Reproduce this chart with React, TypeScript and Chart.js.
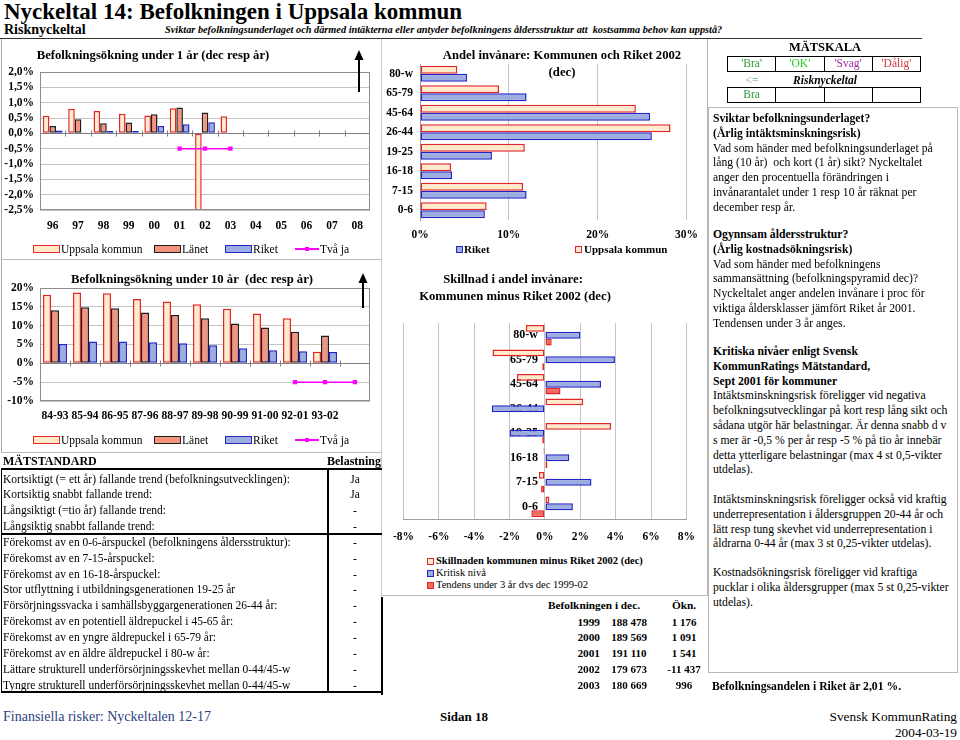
import React, { useEffect, useRef } from 'react';
import { Chart, registerables } from 'chart.js';
Chart.register(...registerables);

const SERIF = '"Liberation Serif", "Times New Roman", Times, serif';

// ---------- Data ----------
const years1 = ['96', '97', '98', '99', '00', '01', '02', '03', '04', '05', '06', '07', '08'];
const uppsala1 = [0.57, 0.8, 0.73, 0.64, 0.58, 0.82, -5.98, 0.56, null, null, null, null, null];
const lanet1 = [0.24, 0.46, 0.33, 0.35, 0.62, 0.84, 0.68, null, null, null, null, null, null];
const riket1 = [0.09, 0.03, 0.08, 0.08, 0.24, 0.3, 0.36, null, null, null, null, null, null];
const tvaJa1 = [null, null, null, null, null, -0.5, -0.5, -0.5, null, null, null, null, null];

const periods10 = ['84-93', '85-94', '86-95', '87-96', '88-97', '89-98', '90-99', '91-00', '92-01', '93-02', ''];
const uppsala10 = [18.2, 18.8, 18.6, 17.1, 16.4, 15.7, 14.5, 13.2, 12.0, 3.1, null];
const lanet10 = [14.1, 14.9, 14.6, 13.5, 12.8, 12.0, 10.6, 9.5, 8.4, 7.4, null];
const riket10 = [5.1, 5.8, 5.8, 5.6, 5.3, 4.8, 4.0, 3.5, 3.2, 3.0, null];
const tvaJa10 = [null, null, null, null, null, null, null, null, -5, -5, -5];

const ageGroups = ['80-w', '65-79', '45-64', '26-44', '19-25', '16-18', '7-15', '0-6'];
const andelUppsala = [4.2, 8.9, 24.3, 28.2, 11.8, 3.5, 11.6, 7.5];
const andelRiket = [5.3, 12.0, 25.9, 26.1, 8.1, 3.6, 12.0, 7.3];

const skillnad = [-1.08, -2.97, -1.58, 2.16, 3.74, -0.08, -0.34, 0.25];
const kritisk = [2.0, 3.96, 3.17, -3.0, -2.0, 1.37, 2.63, 1.58];
const tendens = [0.38, -0.15, 0.88, -0.04, -0.15, 0.14, -0.22, -0.77];

const popYears = ['1999', '2000', '2001', '2002', '2003'];
const popValues = ['188 478', '189 569', '191 110', '179 673', '180 669'];
const popIncrease = ['1 176', '1 091', '1 541', '-11 437', '996'];

const standardShort = [
  ['Kortsiktigt (= ett år) fallande trend (befolkningsutvecklingen):', 'Ja'],
  ['Kortsiktig snabbt fallande trend:', 'Ja'],
  ['Långsiktigt (=tio år) fallande trend:', '-'],
  ['Långsiktig snabbt fallande trend:', '-'],
];
const standardStructure = [
  ['Förekomst av en 0-6-årspuckel (befolkningens åldersstruktur):', '-'],
  ['Förekomst av en 7-15-årspuckel:', '-'],
  ['Förekomst av en 16-18-årspuckel:', '-'],
  ['Stor utflyttning i utbildningsgenerationen 19-25 år', '-'],
  ['Försörjningssvacka i samhällsbyggargenerationen 26-44 år:', '-'],
  ['Förekomst av en potentiell äldrepuckel i 45-65 år:', '-'],
  ['Förekomst av en yngre äldrepuckel i 65-79 år:', '-'],
  ['Förekomst av en äldre äldrepuckel i 80-w år:', '-'],
  ['Lättare strukturell underförsörjningsskevhet mellan 0-44/45-w', '-'],
  ['Tyngre strukturell underförsörjningsskevhet mellan 0-44/45-w', '-'],
];

type Line = { t: string; b?: boolean };
const paragraphs: { y: number; lines: Line[] }[] = [
  {
    y: 119,
    lines: [
      { t: 'Sviktar befolkningsunderlaget?', b: true },
      { t: '(Årlig intäktsminskningsrisk)', b: true },
      { t: 'Vad som händer med befolkningsunderlaget på' },
      { t: 'lång (10 år)  och kort (1 år) sikt? Nyckeltalet' },
      { t: 'anger den procentuella förändringen i' },
      { t: 'invånarantalet under 1 resp 10 år räknat per' },
      { t: 'december resp år.' },
    ],
  },
  {
    y: 235,
    lines: [
      { t: 'Ogynnsam åldersstruktur?', b: true },
      { t: '(Årlig kostnadsökningsrisk)', b: true },
      { t: 'Vad som händer med befolkningens' },
      { t: 'sammansättning (befolkningspyramid dec)?' },
      { t: 'Nyckeltalet anger andelen invånare i proc för' },
      { t: 'viktiga åldersklasser jämfört Riket år 2001.' },
      { t: 'Tendensen under 3 år anges.' },
    ],
  },
  {
    y: 352,
    lines: [
      { t: 'Kritiska nivåer enligt Svensk', b: true },
      { t: 'KommunRatings Mätstandard,', b: true },
      { t: 'Sept 2001 för kommuner', b: true },
      { t: 'Intäktsminskningsrisk föreligger vid negativa' },
      { t: 'befolkningsutvecklingar på kort resp lång sikt och' },
      { t: 'sådana utgör här belastningar. Är denna snabb d v' },
      { t: 's mer är -0,5 % per år resp -5 % på tio år innebär' },
      { t: 'detta ytterligare belastningar (max 4 st 0,5-vikter' },
      { t: 'utdelas).' },
    ],
  },
  {
    y: 500,
    lines: [
      { t: 'Intäktsminskningsrisk föreligger också vid kraftig' },
      { t: 'underrepresentation i åldersgruppen 20-44 år och' },
      { t: 'lätt resp tung skevhet vid underrepresentation i' },
      { t: 'åldrarna 0-44 år (max 3 st 0,25-vikter utdelas).' },
    ],
  },
  {
    y: 573,
    lines: [
      { t: 'Kostnadsökningsrisk föreligger vid kraftiga' },
      { t: 'pucklar i olika åldersgrupper (max 5 st 0,25-vikter' },
      { t: 'utdelas).' },
    ],
  },
];

// ---------- Styles ----------
const C = {
  upFill: '#FFEBCC',
  upLine: '#E3262A',
  lanFill: '#F4937E',
  lanLine: '#1E1E1E',
  rikFill: '#9CADE0',
  rikLine: '#2424C8',
  tendFill: '#F06A5E',
  magenta: '#FF00FF',
  grid: '#C4C4C4',
  frame: '#8C8C8C',
};

const tickFont = { family: SERIF, size: 11.5, weight: 'bold' as const };

const framePlugin = {
  id: 'frame',
  afterDraw(chart: any) {
    const { ctx, chartArea: a } = chart;
    ctx.save();
    ctx.strokeStyle = C.frame;
    ctx.lineWidth = 1;
    ctx.strokeRect(a.left + 0.5, a.top + 0.5, a.right - a.left - 1, a.bottom - a.top - 1);
    ctx.restore();
  },
};

const zeroAxisPlugin = {
  id: 'zeroAxis',
  beforeDatasetsDraw(chart: any) {
    const { ctx, chartArea: a, scales } = chart;
    const y0 = Math.round(scales.y.getPixelForValue(0)) + 0.5;
    const n = scales.x.getLabels().length;
    ctx.save();
    ctx.strokeStyle = '#808080';
    ctx.lineWidth = 1;
    ctx.beginPath();
    ctx.moveTo(a.left, y0);
    ctx.lineTo(a.right, y0);
    for (let i = 1; i < n; i++) {
      const px = Math.round(a.left + ((a.right - a.left) * i) / n) + 0.5;
      ctx.moveTo(px, y0 - 3);
      ctx.lineTo(px, y0 + 3);
    }
    ctx.stroke();
    ctx.restore();
  },
};

const centerLabelsPlugin = {
  id: 'centerLabels',
  beforeDatasetsDraw(chart: any) {
    const { ctx, scales } = chart;
    const x0 = scales.x.getPixelForValue(0);
    ctx.save();
    ctx.font = `bold 12px ${SERIF}`;
    ctx.fillStyle = '#000';
    ctx.textAlign = 'right';
    ctx.textBaseline = 'middle';
    ageGroups.forEach((lab, i) => {
      ctx.fillText(lab, x0 - 7, scales.y.getPixelForTick(i));
    });
    ctx.restore();
  },
};

const barDs = (label: string, data: any[], fill: string, line: string, cat: number) => ({
  type: 'bar' as const,
  label,
  data,
  backgroundColor: fill,
  borderColor: line,
  borderWidth: 1.5,
  borderSkipped: false,
  categoryPercentage: cat,
  barPercentage: 1,
  order: 2,
});

const lineDs = (label: string, data: any[]) => ({
  type: 'line' as const,
  label,
  data,
  borderColor: C.magenta,
  backgroundColor: C.magenta,
  borderWidth: 1.5,
  pointStyle: 'rect' as const,
  pointRadius: 2,
  order: 0,
});

function config1(): any {
  return {
    type: 'bar',
    data: {
      labels: years1,
      datasets: [
        barDs('Uppsala kommun', uppsala1, C.upFill, C.upLine, 0.78),
        barDs('Länet', lanet1, C.lanFill, C.lanLine, 0.78),
        barDs('Riket', riket1, C.rikFill, C.rikLine, 0.78),
        lineDs('Två ja', tvaJa1),
      ],
    },
    options: {
      animation: false,
      responsive: false,
      events: [],
      layout: { padding: { top: 32, right: 8, left: 0, bottom: 0 } },
      plugins: { legend: { display: false }, tooltip: { enabled: false } },
      scales: {
        x: {
          grid: { display: false, drawTicks: false },
          border: { display: false },
          ticks: { padding: 9, font: tickFont, color: '#000', autoSkip: false, maxRotation: 0 },
          afterFit: (s: any) => { s.height = 30; },
        },
        y: {
          min: -2.5,
          max: 2.0,
          ticks: {
            stepSize: 0.5,
            autoSkip: false,
            padding: 6,
            font: tickFont,
            color: '#000',
            callback: (v: any) => Number(v).toFixed(1).replace('.', ',') + '%',
          },
          grid: { color: C.grid, drawTicks: false },
          border: { display: false },
          afterFit: (s: any) => { s.width = 38; },
        },
      },
    },
    plugins: [zeroAxisPlugin, framePlugin],
  };
}

function config2(): any {
  return {
    type: 'bar',
    data: {
      labels: periods10,
      datasets: [
        barDs('Uppsala kommun', uppsala10, C.upFill, C.upLine, 0.8),
        barDs('Länet', lanet10, C.lanFill, C.lanLine, 0.8),
        barDs('Riket', riket10, C.rikFill, C.rikLine, 0.8),
        lineDs('Två ja', tvaJa10),
      ],
    },
    options: {
      animation: false,
      responsive: false,
      events: [],
      layout: { padding: { top: 26, right: 8, left: 0, bottom: 0 } },
      plugins: { legend: { display: false }, tooltip: { enabled: false } },
      scales: {
        x: {
          grid: { display: false, drawTicks: false },
          border: { display: false },
          ticks: { padding: 8, font: tickFont, color: '#000', autoSkip: false, maxRotation: 0 },
          afterFit: (s: any) => { s.height = 26; },
        },
        y: {
          min: -10,
          max: 20,
          ticks: { stepSize: 5, autoSkip: false, padding: 6, font: tickFont, color: '#000', callback: (v: any) => v + '%' },
          grid: { color: C.grid, drawTicks: false },
          border: { display: false },
          afterFit: (s: any) => { s.width = 38; },
        },
      },
    },
    plugins: [zeroAxisPlugin, framePlugin],
  };
}

function config3(): any {
  return {
    type: 'bar',
    data: {
      labels: ageGroups,
      datasets: [
        barDs('Uppsala kommun', andelUppsala, C.upFill, C.upLine, 0.82),
        barDs('Riket', andelRiket, C.rikFill, C.rikLine, 0.82),
      ],
    },
    options: {
      indexAxis: 'y',
      animation: false,
      responsive: false,
      events: [],
      layout: { padding: { top: 24, right: 14, left: 0, bottom: 0 } },
      plugins: { legend: { display: false }, tooltip: { enabled: false } },
      scales: {
        x: {
          min: 0,
          max: 30,
          ticks: { stepSize: 10, padding: 8, font: tickFont, color: '#000', callback: (v: any) => v + '%' },
          grid: { color: C.grid, drawTicks: false },
          border: { display: false },
          afterFit: (s: any) => { s.height = 25; },
        },
        y: {
          ticks: { padding: 7, font: tickFont, color: '#000', autoSkip: false },
          grid: { display: false, drawTicks: false },
          border: { display: true, color: '#A0A0A0' },
          afterFit: (s: any) => { s.width = 38; },
        },
      },
    },
  };
}

function config4(): any {
  return {
    type: 'bar',
    data: {
      labels: ageGroups,
      datasets: [
        barDs('Skillnaden kommunen minus Riket 2002 (dec)', skillnad, C.upFill, C.upLine, 0.84),
        barDs('Kritisk nivå', kritisk, C.rikFill, C.rikLine, 0.84),
        barDs('Tendens under 3 år dvs dec 1999-02', tendens, C.tendFill, C.upLine, 0.84),
      ],
    },
    options: {
      indexAxis: 'y',
      animation: false,
      responsive: false,
      events: [],
      layout: { padding: { top: 23, right: 13, left: 15, bottom: 0 } },
      plugins: { legend: { display: false }, tooltip: { enabled: false } },
      scales: {
        x: {
          min: -8,
          max: 8,
          ticks: { stepSize: 2, padding: 11, font: tickFont, color: '#000', callback: (v: any) => v + '%' },
          grid: { color: C.grid, drawTicks: false },
          border: { display: true, color: '#A0A0A0' },
          afterFit: (s: any) => { s.height = 31; },
        },
        y: { display: false },
      },
    },
    plugins: [centerLabelsPlugin],
  };
}

// ---------- Components ----------
function ChartCanvas({ left, top, width, height, make }: any) {
  const ref = useRef<HTMLCanvasElement>(null);
  useEffect(() => {
    const chart = new Chart(ref.current as HTMLCanvasElement, make());
    return () => chart.destroy();
  }, []);
  return (
    <canvas
      ref={ref}
      width={width}
      height={height}
      style={{ position: 'absolute', left, top, width, height }}
    />
  );
}

function Txt({ x, y, children, size = 12, bold = false, italic = false, align = 'left', color = '#000', style = {} }: any) {
  const tx = align === 'left' ? '0' : align === 'center' ? '-50%' : '-100%';
  return (
    <div
      style={{
        position: 'absolute',
        left: x,
        top: y - 10,
        height: 20,
        lineHeight: '20px',
        fontSize: size,
        fontWeight: bold ? 'bold' : 'normal',
        fontStyle: italic ? 'italic' : 'normal',
        color,
        fontFamily: SERIF,
        whiteSpace: 'pre',
        transform: `translateX(${tx})`,
        ...style,
      }}
    >
      {children}
    </div>
  );
}

function Box({ x, y, w, h, bg, style = {} }: any) {
  return <div style={{ position: 'absolute', left: x, top: y, width: w, height: h, background: bg, ...style }} />;
}

function Swatch({ x, y, w, h, fill, line }: any) {
  return (
    <div
      style={{
        position: 'absolute',
        left: x,
        top: y - h / 2,
        width: w,
        height: h,
        background: fill,
        border: `1.5px solid ${line}`,
        boxSizing: 'border-box',
      }}
    />
  );
}

function Arrow({ x, yTip, yTail }: any) {
  const h = yTail - yTip;
  return (
    <svg style={{ position: 'absolute', left: x - 6, top: yTip, width: 12, height: h + 1 }}>
      <line x1={6} y1={8} x2={6} y2={h} stroke="#000" strokeWidth={2} />
      <polygon points={`6,0 1.5,10 10.5,10`} fill="#000" />
    </svg>
  );
}

function BarLegend({ y }: any) {
  return (
    <>
      <Swatch x={33} y={y} w={27} h={8} fill={C.upFill} line={C.upLine} />
      <Txt x={61} y={y} size={11.5}>Uppsala kommun</Txt>
      <Swatch x={154} y={y} w={27} h={8} fill={C.lanFill} line={C.lanLine} />
      <Txt x={182} y={y} size={11.5}>Länet</Txt>
      <Swatch x={225} y={y} w={27} h={8} fill={C.rikFill} line={C.rikLine} />
      <Txt x={253} y={y} size={11.5}>Riket</Txt>
      <Box x={295} y={y - 0.75} w={24} h={1.5} bg={C.magenta} />
      <Box x={305} y={y - 2} w={4} h={4} bg={C.magenta} />
      <Txt x={320} y={y} size={11.5}>Två ja</Txt>
    </>
  );
}

const ROW0 = 478.5;
const ROWH = 15.85;

export default function App() {
  const scaleCells = [
    { t: "'Bra'", c: '#2E9A3A' },
    { t: "'OK'", c: '#22CC22' },
    { t: "'Svag'", c: '#9A2E9A' },
    { t: "'Dålig'", c: '#D03A3A' },
  ];
  const allStd = [...standardShort, ...standardStructure];
  return (
    <div
      style={{
        position: 'absolute',
        left: 0,
        top: 0,
        width: 960,
        height: 740,
        background: '#fff',
        fontFamily: SERIF,
        overflow: 'hidden',
      }}
    >
      {/* Header */}
      <Txt x={4} y={12} size={23} bold>Nyckeltal 14: Befolkningen i Uppsala kommun</Txt>
      <Txt x={4} y={30} size={14} bold>Risknyckeltal</Txt>
      <Txt x={165} y={30} size={10.3} bold italic>
        Sviktar befolkningsunderlaget och därmed intäkterna eller antyder befolkningens åldersstruktur att  kostsamma behov kan uppstå?
      </Txt>
      <Box x={0} y={38} w={922} h={1} bg="#333" />

      {/* Left panels borders */}
      <Box x={1} y={39} w={1} h={414} bg="#A8A8A8" />
      <Box x={1} y={259} w={381} h={1} bg="#B8B8B8" />
      <Box x={1} y={452} w={381} h={1} bg="#B8B8B8" />
      {/* Middle column borders */}
      <Box x={381} y={39} w={1} h={557} bg="#C8C8C8" />
      <Box x={707} y={39} w={1} h={557} bg="#B8B8B8" />
      <Box x={381} y={595} w={327} h={1} bg="#B8B8B8" />

      {/* Chart 1 */}
      <ChartCanvas left={2} top={40} width={376} height={200} make={config1} />
      <Txt x={153} y={55} size={12.7} bold align="center">Befolkningsökning under 1 år (dec resp år)</Txt>
      <Arrow x={359} yTip={50} yTail={92} />
      <BarLegend y={249} />

      {/* Chart 2 */}
      <ChartCanvas left={2} top={262} width={376} height={165} make={config2} />
      <Txt x={192} y={279} size={12.7} bold align="center">Befolkningsökning under 10 år  (dec resp år)</Txt>
      <Arrow x={363} yTip={273} yTail={308} />
      <BarLegend y={440} />

      {/* Chart 3 */}
      <ChartCanvas left={382} top={40} width={324} height={205} make={config3} />
      <Txt x={562} y={55} size={12.7} bold align="center">Andel invånare: Kommunen och Riket 2002</Txt>
      <Txt x={562} y={72} size={12.7} bold align="center">(dec)</Txt>
      <Swatch x={456} y={249} w={7} h={7} fill={C.rikFill} line={C.rikLine} />
      <Txt x={464} y={249} size={11} bold>Riket</Txt>
      <Swatch x={575} y={249} w={7} h={7} fill={C.upFill} line={C.upLine} />
      <Txt x={584} y={249} size={11} bold>Uppsala kommun</Txt>

      {/* Chart 4 */}
      <ChartCanvas left={382} top={300} width={324} height={250} make={config4} />
      <Txt x={513} y={279} size={12.7} bold align="center">Skillnad i andel invånare:</Txt>
      <Txt x={515} y={296} size={12.7} bold align="center">Kommunen minus Riket 2002 (dec)</Txt>
      <Swatch x={427} y={561} w={7} h={7} fill={C.upFill} line={C.upLine} />
      <Txt x={436} y={561} size={10.5} bold>Skillnaden kommunen minus Riket 2002 (dec)</Txt>
      <Swatch x={427} y={573} w={7} h={7} fill={C.rikFill} line={C.rikLine} />
      <Txt x={436} y={573} size={10.5}>Kritisk nivå</Txt>
      <Swatch x={427} y={585} w={7} h={7} fill={C.tendFill} line={C.upLine} />
      <Txt x={436} y={585} size={10.5}>Tendens under 3 år dvs dec 1999-02</Txt>

      {/* MÄTSTANDARD table */}
      <Txt x={3} y={461} size={12} bold>MÄTSTANDARD</Txt>
      <Txt x={381} y={461} size={12} bold align="right">Belastning</Txt>
      <Box x={1} y={468} w={381} h={1.5} bg="#000" />
      <Box x={1} y={468} w={1} h={225} bg="#000" />
      <Box x={327} y={468} w={1.5} h={225} bg="#000" />
      <Box x={1} y={533} w={381} h={1.5} bg="#000" />
      <Box x={1} y={691} w={381} h={2} bg="#000" />
      {allStd.map((r, i) => (
        <React.Fragment key={i}>
          <Txt x={3} y={ROW0 + i * ROWH} size={11.5}>{r[0]}</Txt>
          <Txt x={355} y={ROW0 + i * ROWH} size={11.5} align="center">{r[1]}</Txt>
        </React.Fragment>
      ))}

      {/* Population table */}
      <Box x={381} y={597} w={2} h={98} bg="#000" />
      <Txt x={594} y={605} size={11.3} bold align="center">Befolkningen i dec.</Txt>
      <Txt x={684} y={605} size={11.3} bold align="center">Ökn.</Txt>
      {popYears.map((yr, i) => (
        <React.Fragment key={yr}>
          <Txt x={600} y={621.5 + i * 15.9} size={11.3} bold align="right">{yr}</Txt>
          <Txt x={629} y={621.5 + i * 15.9} size={11} bold align="center">{popValues[i]}</Txt>
          <Txt x={684} y={621.5 + i * 15.9} size={11} bold align="center">{popIncrease[i]}</Txt>
        </React.Fragment>
      ))}

      {/* MÄTSKALA */}
      <Txt x={825} y={47} size={12.5} bold align="center">MÄTSKALA</Txt>
      <div style={{ position: 'absolute', left: 727, top: 56, width: 194, height: 16, border: '1.5px solid #000', boxSizing: 'border-box', display: 'flex' }}>
        {scaleCells.map((c, i) => (
          <div key={i} style={{ flex: 1, borderLeft: i ? '1.5px solid #000' : 'none', textAlign: 'center', fontSize: 11.5, lineHeight: '13px', color: c.c, fontFamily: SERIF }}>{c.t}</div>
        ))}
      </div>
      <Txt x={752} y={80} size={11.5} color="#5FAF5F" align="center">{'<='}</Txt>
      <Txt x={825} y={80} size={11.5} bold italic align="center">Risknyckeltal</Txt>
      <div style={{ position: 'absolute', left: 727, top: 87, width: 194, height: 16, border: '1.5px solid #000', boxSizing: 'border-box', display: 'flex' }}>
        {[0, 1, 2, 3].map((i) => (
          <div key={i} style={{ flex: 1, borderLeft: i ? '1.5px solid #000' : 'none', textAlign: 'center', fontSize: 11.5, lineHeight: '13px', color: '#2E9A3A', fontFamily: SERIF }}>{i === 0 ? 'Bra' : ''}</div>
        ))}
      </div>

      {/* Right text box */}
      <div style={{ position: 'absolute', left: 708, top: 107, width: 250, height: 566, border: '1px solid #B8B8B8', boxSizing: 'border-box' }} />
      {paragraphs.map((p, pi) =>
        p.lines.map((l, li) => (
          <Txt key={`${pi}-${li}`} x={713} y={p.y + li * 14.8} size={11.7} bold={!!l.b}>{l.t}</Txt>
        ))
      )}
      <Txt x={712} y={687} size={11.7} bold>Befolkningsandelen i Riket är 2,01 %.</Txt>

      {/* Footer */}
      <Txt x={3} y={717} size={14} color="#2E3F7F">Finansiella risker: Nyckeltalen 12-17</Txt>
      <Txt x={440} y={717} size={13} bold>Sidan 18</Txt>
      <Txt x={957} y={717} size={13.3} align="right">Svensk KommunRating</Txt>
      <Txt x={957} y={733} size={13.3} align="right">2004-03-19</Txt>
    </div>
  );
}
